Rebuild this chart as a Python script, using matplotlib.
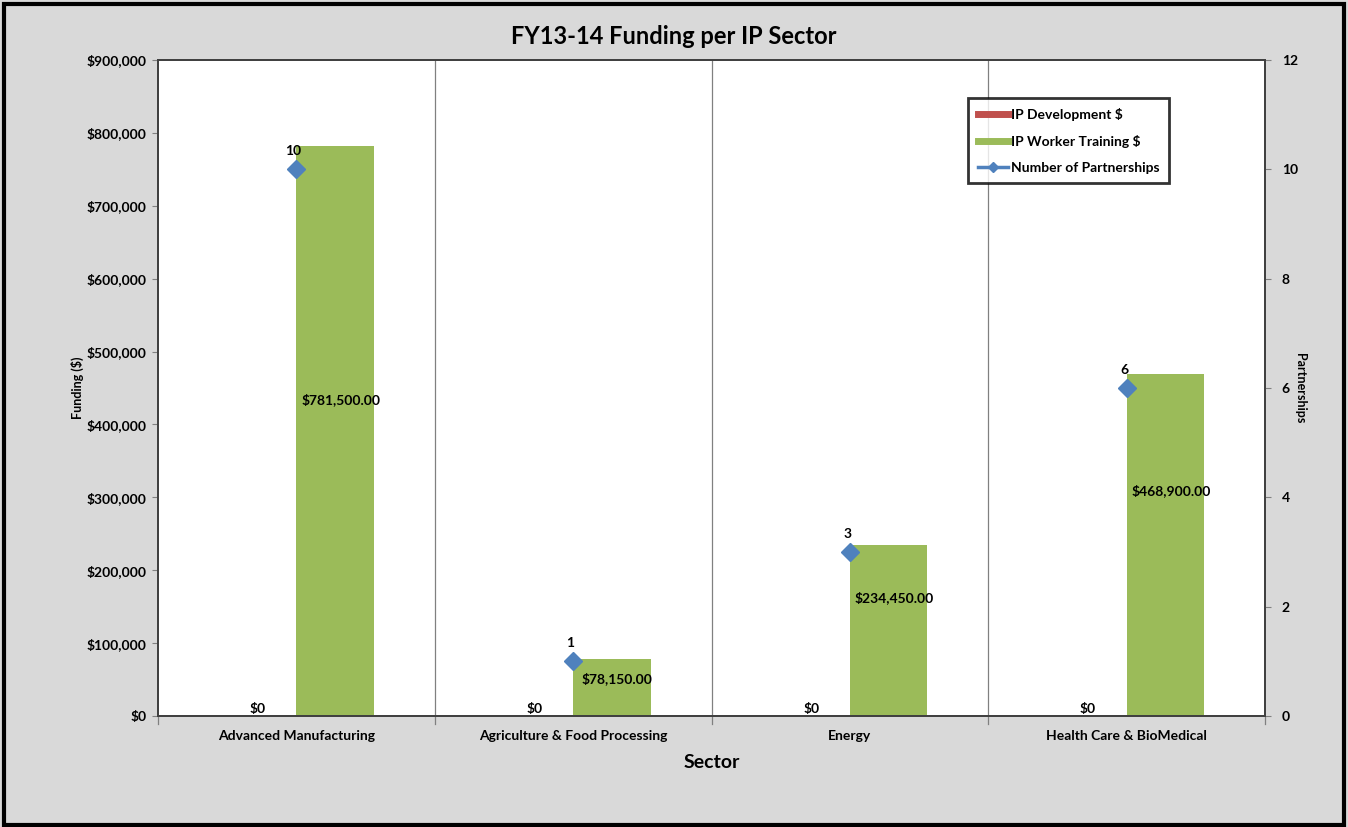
import numpy as np
import matplotlib
matplotlib.use('Agg')
from matplotlib import pyplot as plt
from matplotlib.patches import Rectangle
from matplotlib.lines import Line2D
from matplotlib.ticker import FuncFormatter

plt.rcParams['font.family'] = ['Lato', 'DejaVu Sans']

sectors = ['Advanced Manufacturing', 'Agriculture & Food Processing', 'Energy',
           'Health Care & BioMedical']
ip_development = [0, 0, 0, 0]
ip_training = [781500.00, 78150.00, 234450.00, 468900.00]
partnerships = [10, 1, 3, 6]

red = '#C0504D'
green = '#9BBB59'
blue = '#4F81BD'
bg = '#D9D9D9'

fig = plt.figure(figsize=(13.48, 8.27), dpi=100, facecolor=bg)
ax = fig.add_axes([0.1172, 0.1342, 0.8213, 0.7932])
ax2 = ax.twinx()

x = np.arange(len(sectors))
w = 0.28
ax.bar(x - w / 2, ip_development, w, color=red, zorder=2)
ax.bar(x + w / 2, ip_training, w, color=green, zorder=2)

ax.set_xlim(-0.5, len(sectors) - 0.5)
ax.set_ylim(0, 900000)
ax.set_yticks(np.arange(0, 900001, 100000))
ax.yaxis.set_major_formatter(FuncFormatter(lambda v, p: '${:,.0f}'.format(v)))
ax.set_xticks(x)
ax.set_xticklabels(sectors, fontsize=10, fontweight='bold')
ax.tick_params(axis='x', length=0, pad=10)
ax.tick_params(axis='y', length=4, color='#808080', labelsize=10, pad=4)
for lab in ax.get_yticklabels():
    lab.set_fontweight('bold')

# category separators
for b in np.arange(0.5, len(sectors) - 0.5, 1):
    ax.axvline(b, color='#808080', lw=0.9, zorder=1)
for b in np.arange(-0.5, len(sectors), 1):
    ax.plot([b, b], [0, -0.012], transform=ax.get_xaxis_transform(),
            color='#808080', lw=0.9, clip_on=False)

# value labels
for i, v in enumerate(ip_development):
    ax.text(x[i] - w / 2, v + 2000, '${:,.0f}'.format(v), ha='center', va='bottom',
            fontsize=10, fontweight='bold')
label_frac = [0.555, 0.65, 0.69, 0.66]
for i, v in enumerate(ip_training):
    ax.text(x[i] + w / 2 + 0.02, v * label_frac[i], '${:,.2f}'.format(v), ha='center',
            va='center', fontsize=10, fontweight='bold', zorder=5)

ax2.plot(x, partnerships, linestyle='none', marker='D', markersize=9, color=blue,
         zorder=4)
for i, v in enumerate(partnerships):
    ax2.text(x[i] - 0.01, v + 0.22, str(v), ha='center', va='bottom', fontsize=10,
             fontweight='bold')
ax2.set_ylim(0, 12)
ax2.set_yticks(np.arange(0, 13, 2))
ax2.tick_params(axis='y', length=4, color='#808080', labelsize=10, pad=8)
for lab in ax2.get_yticklabels():
    lab.set_fontweight('bold')

for a in (ax, ax2):
    for s in a.spines.values():
        s.set_color('#404040')
        s.set_linewidth(1.3)

ax.set_ylabel('Funding ($)', fontsize=9, fontweight='bold', labelpad=2)
ax2.set_ylabel('Partnerships', fontsize=9, fontweight='bold', rotation=270,
               labelpad=6)
ax.set_xlabel('Sector', fontsize=14, fontweight='bold', labelpad=9)
fig.text(0.5, 0.956, 'FY13-14 Funding per IP Sector', ha='center', va='center',
         fontsize=17, fontweight='bold')

handles = [Line2D([], [], color=red, lw=5),
           Line2D([], [], color=green, lw=5),
           Line2D([], [], color=blue, lw=2.5, marker='D', markersize=5)]
leg = ax2.legend(handles, ['IP Development $', 'IP Worker Training $',
                           'Number of Partnerships'],
                 loc='upper left', bbox_to_anchor=(0.7317, 0.942), borderaxespad=0,
                 prop={'weight': 'bold', 'size': 10}, frameon=True, fancybox=False,
                 handlelength=2.2, handletextpad=0.2, labelspacing=1.0,
                 borderpad=0.7)
leg.get_frame().set_edgecolor('black')
leg.get_frame().set_linewidth(2)

fig.patches.append(Rectangle((0.003, 0.003), 0.994, 0.992, transform=fig.transFigure,
                             fill=False, edgecolor='black', linewidth=3))

plt.savefig('out.png', dpi=100, facecolor=bg)
